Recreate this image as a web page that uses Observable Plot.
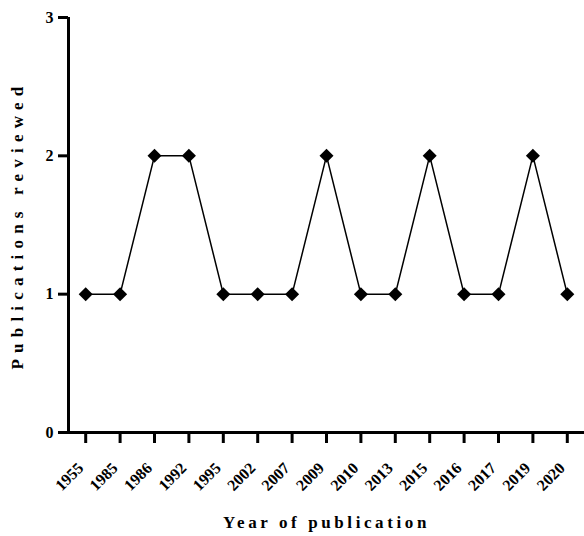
<!DOCTYPE html>
<html>
<head>
<meta charset="utf-8">
<script src="https://cdn.jsdelivr.net/npm/d3@7"></script>
<script src="https://cdn.jsdelivr.net/npm/@observablehq/plot@0.6"></script>
<style>
  body { margin: 0; background: #fff; }
  #chart svg { display: block; }
  g[aria-label="y-axis label"] text, g[aria-label="x-axis label"] text { font-size: 17px !important; }
  g[aria-label="y-axis label"] text { letter-spacing: 6.2px; }
  g[aria-label="x-axis label"] text { letter-spacing: 3.6px; }
  g[aria-label="y-axis tick label"] text, g[aria-label="x-axis tick label"] text { font-size: 16px !important; }
</style>
</head>
<body>
<div id="chart"></div>
<script>
const years = ["1955","1985","1986","1992","1995","2002","2007","2009","2010","2013","2015","2016","2017","2019","2020"];
const counts = [1,1,2,2,1,1,1,2,1,1,2,1,1,2,1];
const yTicks = [0,1,2,3];

const data = years.map((y, i) => ({i, year: y, count: counts[i]}));
const font = "Liberation Serif, Times New Roman, serif";
const xTicks = d3.range(years.length);

const chart = Plot.plot({
  width: 584,
  height: 536,
  marginLeft: 68,
  marginRight: 0,
  marginTop: 17,
  marginBottom: 104,
  style: {fontFamily: font, fontWeight: "bold", fontSize: "16px", color: "#000", background: "#fff"},
  x: {type: "linear", domain: [-0.5, years.length - 0.5]},
  y: {domain: [0, 3]},
  marks: [
    Plot.ruleY([0], {stroke: "#000", strokeWidth: 3}),
    Plot.ruleX([-0.5], {y1: 0, y2: 3, stroke: "#000", strokeWidth: 3}),
    Plot.axisY({ticks: yTicks, tickSize: 10, tickPadding: 5, strokeWidth: 3, tickFormat: d3.format("d"),
      label: "Publications reviewed", labelAnchor: "center", labelArrow: "none", labelOffset: 58}),
    Plot.axisX({ticks: xTicks, tickSize: 11, strokeWidth: 3, tickFormat: () => "", label: null}),
    Plot.axisX({ticks: xTicks, tickSize: 0, tickRotate: -45, tickPadding: 33, dx: -5,
      tickFormat: i => years[i], label: null}),
    Plot.axisX({ticks: [], label: "Year of publication", labelAnchor: "center", labelArrow: "none", labelOffset: 95}),
    Plot.line(data, {x: "i", y: "count", stroke: "#000", strokeWidth: 1.5}),
    Plot.dot(data, {x: "i", y: "count", symbol: "square", r: 5.6, rotate: 45, fill: "#000", stroke: "none"})
  ]
});
document.getElementById("chart").appendChild(chart);
</script>
</body>
</html>
